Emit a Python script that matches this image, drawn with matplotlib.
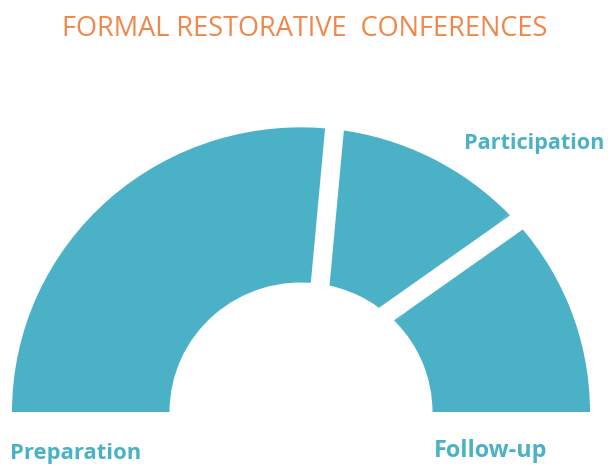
import numpy as np
import matplotlib
matplotlib.use("Agg")
import matplotlib.pyplot as plt
from matplotlib.patches import Wedge

# ---- data ----
title = "FORMAL RESTORATIVE  CONFERENCES"
categories = ["Preparation", "Participation", "Follow-up"]
values = [54.0, 21.5, 24.5]          # share of the half ring (percent)

# ---- style ----
ring_color = "#4BB1C6"
label_color = "#4BB1C6"
title_color = "#F0874A"
r_out, r_in = 289.0, 131.5
gap_tilts = [2.0, -8.5]              # slant of each white gap (deg)

fig = plt.figure(figsize=(6.08, 4.66), dpi=100)
ax = fig.add_axes([0, 0, 1, 1])
ax.set_xlim(-301, 307)
yscale = 0.985
ax.set_ylim((412 - 466) / yscale, 412 / yscale)
ax.axis("off")

# wedges from 180 deg clockwise to 0 deg
total = sum(values)
angles = [180.0]
for v in values:
    angles.append(angles[-1] - 180.0 * v / total)

for i, cat in enumerate(categories):
    a_start, a_end = angles[i], angles[i + 1]
    ax.add_patch(Wedge((0, 0), r_out, a_end, a_start, width=r_out - r_in,
                       facecolor=ring_color, edgecolor="none"))

# white gaps between the segments
rm = (r_out + r_in) / 2
for k, a in enumerate(angles[1:-1]):
    t = np.deg2rad(a)
    px, py = rm * np.cos(t), rm * np.sin(t)
    d = np.deg2rad(a + gap_tilts[k])
    L = 115
    ax.plot([px - L * np.cos(d), px + L * np.cos(d)],
            [py - L * np.sin(d), py + L * np.sin(d)],
            color="white", lw=13.6, solid_capstyle="butt", zorder=3)

# title
fig.text(0.5 + 0.5 / 608, 1 - 29 / 466, title, ha="center", va="center",
         fontsize=19.5, color=title_color, family="Open Sans",
         fontweight="medium")

# labels
lab_kw = dict(color=label_color, family="Open Sans",
              fontweight="bold", va="center")
fig.text(10 / 608, 1 - 453 / 466, categories[0], ha="left",
         fontsize=15.8, **lab_kw)
fig.text(604 / 608, 1 - 144 / 466, categories[1], ha="right",
         fontsize=15.6, **lab_kw)
fig.text(434 / 608, 1 - 451 / 466, categories[2], ha="left",
         fontsize=16.8, **lab_kw)

fig.savefig("out.png", dpi=100)
